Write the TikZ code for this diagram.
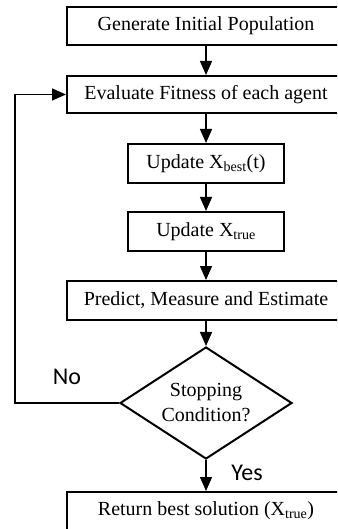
\documentclass[tikz,border=0pt]{standalone}
\usepackage{fontspec}
\setmainfont{Liberation Serif}
\newfontfamily\labelfont{Carlito}
\usetikzlibrary{shapes.geometric,arrows.meta}

\begin{document}
\begin{tikzpicture}[x=1pt,y=-1pt,
  every node/.style={font=\fontsize{20}{25}\selectfont, text=black},
  widebox/.style={draw, line width=2pt, rectangle, minimum width=278pt, minimum height=38pt, inner sep=0pt},
  narrowbox/.style={draw, line width=2pt, rectangle, minimum width=156pt, minimum height=39pt, inner sep=0pt},
  decision/.style={draw, line width=2pt, diamond, aspect=1.536, minimum width=172pt, minimum height=112pt, inner sep=0pt, align=center},
  flow/.style={line width=1.4pt, -{Triangle[length=14pt,width=12pt]}},
  branch/.style={font=\labelfont\fontsize{24}{28}\selectfont}
]
\useasboundingbox (0,0) rectangle (337,529);
\clip (0,0) rectangle (337,529);

\node[widebox]   (init)    at (206,26)    {Generate Initial Population};
\node[widebox, minimum height=37pt] (eval) at (206,94.5) {Evaluate Fitness of each agent};
\node[narrowbox] (best)    at (206,163.5) {Update X\textsubscript{best}(t)};
\node[narrowbox] (true)    at (206,231.5) {Update X\textsubscript{true}};
\node[widebox, minimum height=39pt] (predict) at (206,300.5) {Predict, Measure and Estimate};
\node[decision]  (stop)    at (206,403)   {Stopping\\Condition?};
\node[widebox]   (ret)     at (206,511)   {Return best solution (X\textsubscript{true})};

\coordinate (loop) at (15,0);

\draw[flow] (init) -- (eval);
\draw[flow] (eval) -- (best);
\draw[flow] (best) -- (true);
\draw[flow] (true) -- (predict);
\draw[flow] (predict) -- (stop);
\draw[flow] (stop) -- (ret);
\draw[flow] (stop.west) -- (stop.west -| loop) -- (eval.west -| loop) -- (eval.west);

\node[branch] (no)  at (67,377)  {No};
\node[branch] (yes) at (247,473) {Yes};
\end{tikzpicture}
\end{document}
